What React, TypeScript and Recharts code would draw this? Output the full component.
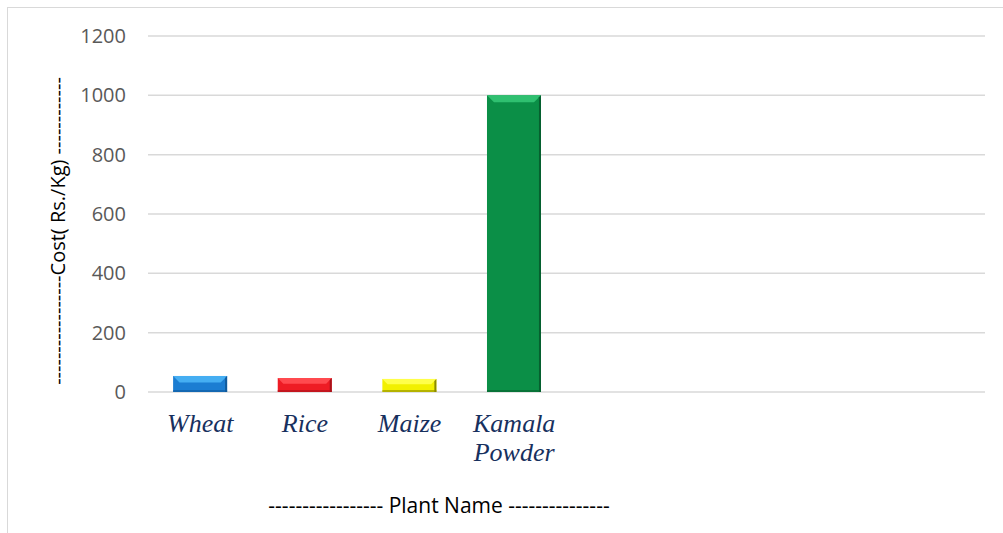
import React from 'react';
import { BarChart, Bar, XAxis, YAxis, CartesianGrid, Cell } from 'recharts';

const plants = ['Wheat', 'Rice', 'Maize', 'Kamala Powder', '', '', '', ''];
const costs: (number | null)[] = [54, 47, 44, 1000, null, null, null, null];
const barColors = ['#1b7dd2', '#ee1c24', '#f2f000', '#0b8f47'];
const yTicks = [0, 200, 400, 600, 800, 1000, 1200];

const data = plants.map((name, i) => ({ key: `c${i}`, name, cost: costs[i] }));

const lighten: Record<string, string> = {
  '#1b7dd2': '#45aef2',
  '#ee1c24': '#ff4a4f',
  '#f2f000': '#ffff4a',
  '#0b8f47': '#2fc070',
};
const darken: Record<string, string> = {
  '#1b7dd2': '#105a9c',
  '#ee1c24': '#a8121a',
  '#f2f000': '#8c8a00',
  '#0b8f47': '#06602f',
};

const BevelBar = (props: any) => {
  const { x, y, width, height, fill } = props;
  if (!height || height <= 0) return null;
  const b = Math.min(7, height / 2.5);
  return (
    <g>
      <rect x={x} y={y} width={width} height={height} fill={fill} />
      <polygon
        points={`${x},${y} ${x + width},${y} ${x + width - b},${y + b} ${x + b},${y + b}`}
        fill={lighten[fill]}
      />
      <polygon
        points={`${x + width},${y} ${x + width},${y + height} ${x + width - 2},${y + height} ${x + width - 2},${y + 2}`}
        fill={darken[fill]}
      />
      <rect x={x} y={y + height - 2} width={width} height={2} fill={darken[fill]} opacity={0.6} />
    </g>
  );
};

const PlantTick = (props: any) => {
  const { x, y, payload } = props;
  const label = plants[payload.index] ?? payload.value;
  if (!label) return null;
  const lines = String(label).split(' ');
  return (
    <text
      x={x}
      y={y + 40}
      textAnchor="middle"
      fill="#17305e"
      fontFamily="'Liberation Serif', serif"
      fontStyle="italic"
      fontSize={26}
    >
      {lines.map((l, i) => (
        <tspan key={i} x={x} dy={i === 0 ? 0 : 29}>
          {l}
        </tspan>
      ))}
    </text>
  );
};

const labelFont = "'Open Sans', sans-serif";

export default function App() {
  return (
    <div style={{ position: 'absolute', left: 0, top: 0, width: 1003, height: 533, background: '#fff' }}>
      <div
        style={{
          position: 'absolute',
          left: 7,
          top: 7,
          right: 0,
          bottom: 0,
          borderTop: '1px solid #d9d9d9',
          borderLeft: '1px solid #d9d9d9',
        }}
      />
      <div style={{ position: 'absolute', left: 0, top: 0 }}>
        <BarChart
          width={1003}
          height={533}
          data={data}
          margin={{ top: 36, right: 18, bottom: 0, left: 0 }}
          barCategoryGap="24%"
        >
          <CartesianGrid vertical={false} stroke="#d9d9d9" strokeWidth={1.5} />
          <XAxis
            dataKey="key"
            height={141}
            axisLine={false}
            tickLine={false}
            tickSize={0}
            tickMargin={0}
            interval={0}
            tick={<PlantTick />}
            label={{
              content: (p: any) => (
                <text
                  x={p.viewBox.x + 291}
                  y={513}
                  textAnchor="middle"
                  fontFamily={labelFont}
                  fontSize={21}
                  fill="#000"
                >
                  {'-----------------  Plant Name ---------------'}
                </text>
              ),
            }}
          />
          <YAxis
            width={148}
            domain={[0, 1200]}
            ticks={yTicks}
            axisLine={false}
            tickLine={false}
            tickSize={0}
            tickMargin={22}
            tick={{ fill: '#595959', fontSize: 20, fontFamily: labelFont }}
            label={{
              content: () => (
                <text
                  x={57}
                  y={231}
                  transform="rotate(-90 57 231)"
                  textAnchor="middle"
                  dominantBaseline="central"
                  fontFamily={labelFont}
                  fontSize={20}
                  fill="#000"
                >
                  {'-----------------Cost( Rs./Kg) ------------'}
                </text>
              ),
            }}
          />
          <Bar dataKey="cost" isAnimationActive={false} shape={<BevelBar />}>
            {data.map((d, i) => (
              <Cell key={d.key} fill={barColors[i % barColors.length]} />
            ))}
          </Bar>
        </BarChart>
      </div>
    </div>
  );
}
